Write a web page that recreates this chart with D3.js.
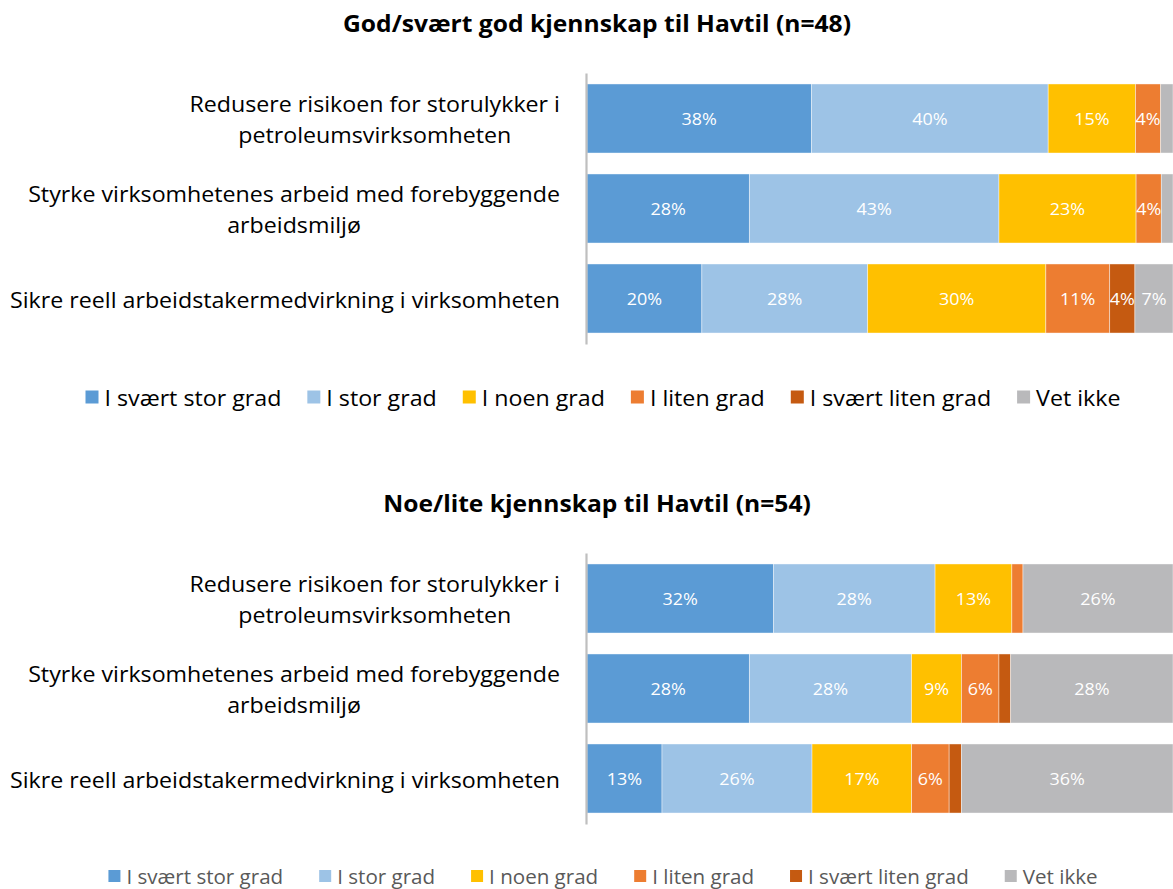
<!DOCTYPE html>
<html><head><meta charset="utf-8">
<script src="https://cdn.jsdelivr.net/npm/d3@7"></script>
<style>body{margin:0;background:#fff}svg{display:block}text{font-family:"Open Sans",sans-serif}</style>
</head><body><svg id="c" width="1173" height="889"></svg>
<script>
const seriesNames = ["I svært stor grad","I stor grad","I noen grad","I liten grad","I svært liten grad","Vet ikke"];
const colors = ["#5B9BD5","#9DC3E6","#FFC000","#ED7D31","#C55A11","#B9B9BB"];
const categories = ["Redusere risikoen for storulykker i petroleumsvirksomheten","Styrke virksomhetenes arbeid med forebyggende arbeidsmiljø","Sikre reell arbeidstakermedvirkning i virksomheten"];
const categoryLines = [["Redusere risikoen for storulykker i","petroleumsvirksomheten"],["Styrke virksomhetenes arbeid med forebyggende","arbeidsmiljø"],["Sikre reell arbeidstakermedvirkning i virksomheten"]];
const title1 = "God/svært god kjennskap til Havtil (n=48)";
const title2 = "Noe/lite kjennskap til Havtil (n=54)";
// values in percent, per category, per series
const values1 = [
  [38.3, 40.4, 14.9, 4.3, 0, 2.1],
  [27.7, 42.6, 23.4, 4.3, 0, 2.0],
  [19.6, 28.3, 30.4, 10.9, 4.3, 6.5]
];
const values2 = [
  [31.8, 27.6, 13.1, 1.9, 0, 25.6],
  [27.7, 27.7, 8.5, 6.4, 2.0, 27.7],
  [12.8, 25.6, 17.0, 6.4, 2.1, 36.1]
];

const svg = d3.select("#c");
// horizontal compression factor to mimic a narrower (Calibri-like) face
const probe = svg.append("text").attr("font-size",22).text(categoryLines[2][0]);
const kx = 550 / probe.node().getComputedTextLength();
probe.remove();
const probeB = svg.append("text").attr("font-size",23).attr("font-weight","bold").text(title1);
const kb = 508 / probeB.node().getComputedTextLength();
probeB.remove();
function fitK(sel,k){ sel.each(function(){ const w=this.getComputedTextLength(); d3.select(this).attr("textLength", w*k).attr("lengthAdjust","spacingAndGlyphs"); }); }
function fit(sel){ fitK(sel,kx); }

const x = d3.scaleLinear().domain([0,100]).range([587,1173]);

function drawChart(title, values, top, legendY, legendFont, legendColor, squareSize, gap){
  const g = svg.append("g");
  const y = d3.scaleBand().domain(categories).range([top+73, top+344]).paddingInner(0.233).paddingOuter(0.122);
  // title
  g.append("text").attr("x",597).attr("y",top+23).attr("text-anchor","middle").attr("dominant-baseline","central")
    .attr("font-size",23).attr("font-weight","bold").attr("fill","#000").text(title).call(s=>fitK(s,kb));
  // stacked data
  const rows = values.map((v,i)=>({cat:categories[i], segs:[]}));
  rows.forEach((r,i)=>{ let acc=0; values[i].forEach((v,j)=>{ r.segs.push({x0:acc,x1:acc+v,v:v,s:j}); acc+=v; }); });
  const rg = g.selectAll("g.row").data(rows).join("g").attr("class","row");
  rg.selectAll("rect").data(d=>d.segs.filter(s=>s.v>0).map(s=>Object.assign({cat:d.cat},s))).join("rect")
    .attr("x",d=>x(d.x0)).attr("width",d=>Math.max(0,Math.min(x(d.x1),1173)-x(d.x0)))
    .attr("y",d=>y(d.cat)).attr("height",y.bandwidth())
    .attr("fill",d=>colors[d.s]).attr("stroke","#fff").attr("stroke-opacity",0.6).attr("stroke-width",0.7);
  rg.selectAll("text").data(d=>d.segs.filter(s=>s.v>=3).map(s=>Object.assign({cat:d.cat},s))).join("text")
    .attr("x",d=>(x(d.x0)+Math.min(x(d.x1),1173))/2).attr("y",d=>y(d.cat)+y.bandwidth()/2)
    .attr("text-anchor","middle").attr("dominant-baseline","central").attr("font-size",17).attr("fill","#fff")
    .text(d=>Math.round(d.v)+"%").call(fit);
  // axis line
  const ax = g.append("g").attr("transform","translate(586,0)").call(d3.axisLeft(y).tickSize(0).tickFormat(""));
  ax.select(".domain").attr("stroke","#BFBFBF").attr("stroke-width",2.2);
  // category labels
  categories.forEach((c,i)=>{
    const lines = categoryLines[i];
    const tg = g.append("g");
    const ts = lines.map((ln,k)=>tg.append("text").attr("font-size",22).attr("fill","#000").attr("text-anchor","middle")
      .attr("dominant-baseline","central")
      .attr("y", y(c)+y.bandwidth()/2 + (k-(lines.length-1)/2)*31).text(ln));
    ts.forEach(t=>fit(t));
    const bw = d3.max(ts, t=>+t.attr("textLength"));
    ts.forEach(t=>t.attr("x", 560 - bw/2));
  });
  // legend
  const lg = g.append("g");
  const items = seriesNames.map((n,i)=>{
    const it = lg.append("g");
    it.append("rect").attr("width",squareSize).attr("height",squareSize).attr("y",legendY-squareSize/2).attr("fill",colors[i]);
    const t = it.append("text").attr("x",squareSize+6).attr("y",legendY).attr("dominant-baseline","central")
      .attr("font-size",legendFont).attr("fill",legendColor).text(n);
    fit(t);
    return {it, w: squareSize+6+(+t.attr("textLength"))};
  });
  const total = d3.sum(items,d=>d.w) + gap*(items.length-1);
  let cx = 603 - total/2;
  items.forEach(d=>{ d.it.attr("transform",`translate(${cx},0)`); cx += d.w + gap; });
}

drawChart(title1, values1, 0, 397, 22, "#000", 13, 26);
drawChart(title2, values2, 480, 876, 19.5, "#595959", 12, 36);
</script></body></html>
